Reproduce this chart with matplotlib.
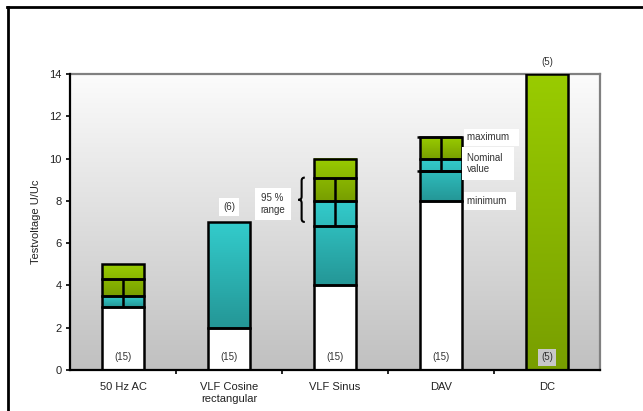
import numpy as np
import matplotlib
matplotlib.use("Agg")
import matplotlib.pyplot as plt
from matplotlib.colors import LinearSegmentedColormap
from matplotlib.lines import Line2D
from matplotlib.path import Path
from matplotlib.patches import PathPatch

plt.rcParams['font.family'] = ['Liberation Sans', 'DejaVu Sans']

# ---- data -------------------------------------------------------------
categories = ["50 Hz AC", "VLF Cosine\nrectangular", "VLF Sinus", "DAV", "DC"]
# segment boundaries of each stacked column (U/Uc)
boundaries = [
    [0, 3, 3.5, 4.3, 5],
    [0, 2, 7],
    [0, 4, 6.8, 8, 9.1, 10],
    [0, 8, 9.4, 10, 11],
    [0, 14],
]
# fill kind of each segment
kinds = [
    ["white", "cyan", "green", "green"],
    ["white", "cyan"],
    ["white", "cyan", "cyan", "green", "green"],
    ["white", "cyan", "cyan", "green"],
    ["green"],
]
# vertical divider (95 % range) of each column, None if absent
dividers = [(3, 4.3), None, (6.8, 9.1), (9.4, 11), None]
sample_counts = ["(15)", "(15)", "(15)", "(15)", "(5)"]
top_counts = [None, "(6)", None, None, "(5)"]
yticks = [0, 2, 4, 6, 8, 10, 12, 14]

# ---- style ------------------------------------------------------------
gradients = {
    "cyan": ("#33cccc", "#249696"),
    "green": ("#99cc00", "#789e00"),
}
bar_w = 0.4
edge_lw = 1.8

fig = plt.figure(figsize=(6.43, 4.11), dpi=100)
ax = fig.add_axes([0.109, 0.0998, 0.824, 0.7202])
ax.set_xlim(-0.5, len(categories) - 0.5)
ax.set_ylim(0, 14)

# background gradient of the plot area
bg = LinearSegmentedColormap.from_list("bg", ["#c0c0c0", "#fcfcfc"])
ax.imshow(np.linspace(0, 1, 256).reshape(-1, 1), cmap=bg, aspect="auto",
          extent=(0, 1, 0, 1), transform=ax.transAxes, origin="lower",
          zorder=0)

grad = np.linspace(0, 1, 256).reshape(-1, 1)
for i, (bnds, knd) in enumerate(zip(boundaries, kinds)):
    left, right = i - bar_w / 2, i + bar_w / 2
    # contiguous groups of equal kind share one gradient
    j = 0
    while j < len(knd):
        k = j
        while k + 1 < len(knd) and knd[k + 1] == knd[j]:
            k += 1
        lo, hi = bnds[j], bnds[k + 1]
        if knd[j] == "white":
            ax.bar(i, hi - lo, bottom=lo, width=bar_w, color="white",
                   linewidth=0, zorder=2)
        else:
            top_c, bot_c = gradients[knd[j]]
            cm = LinearSegmentedColormap.from_list(knd[j], [bot_c, top_c])
            ax.imshow(grad, cmap=cm, aspect="auto", origin="lower",
                      extent=(left, right, lo, hi), zorder=2)
        j = k + 1
    # outlines of every segment
    for lo, hi in zip(bnds[:-1], bnds[1:]):
        ax.bar(i, hi - lo, bottom=lo, width=bar_w, fill=False,
               edgecolor="black", linewidth=edge_lw, zorder=3)
    if dividers[i] is not None:
        ax.plot([i, i], dividers[i], color="black", lw=edge_lw, zorder=4,
                solid_capstyle="butt")

# nominal / maximum lines of DAV reach slightly past the column
for y in (9.4, 11):
    ax.plot([3 - bar_w / 2 - 0.025, 3 + bar_w / 2], [y, y], color="black",
            lw=edge_lw, zorder=4, solid_capstyle="butt")
ax.set_xlim(-0.5, len(categories) - 0.5)
ax.set_ylim(0, 14)

# sample counts
for i, s in enumerate(sample_counts):
    fc = "white" if kinds[i][0] == "white" else "#c8c8c8"
    ax.text(i, 0.6, s, ha="center", va="center", fontsize=7,
            color="#333333", zorder=5,
            bbox=dict(boxstyle="square,pad=0.35", fc=fc, ec="none"))
ax.text(1, 7.7, top_counts[1], ha="center", va="center", fontsize=7,
        color="#333333", zorder=5,
        bbox=dict(boxstyle="square,pad=0.4", fc="white", ec="none"))
ax.text(4, 14.55, top_counts[4], ha="center", va="center", fontsize=7,
        color="#333333", clip_on=False)

# DAV annotations
lab_kw = dict(ha="left", va="center", fontsize=7, color="#333333", zorder=5)
ax.text(3.25, 11.0, "maximum  ", bbox=dict(boxstyle="square,pad=0.4",
        fc="white", ec="none"), **lab_kw)
ax.text(3.25, 9.78, "Nominal  \nvalue", linespacing=1.15,
        bbox=dict(boxstyle="square,pad=0.6", fc="white", ec="none"), **lab_kw)
ax.text(3.25, 8.0, "minimum  ", bbox=dict(boxstyle="square,pad=0.4",
        fc="white", ec="none"), **lab_kw)

# 95 % range label and brace
ax.text(1.30, 7.85, "95 %\nrange", ha="left", va="center", fontsize=7,
        color="#333333", linespacing=1.15, zorder=5,
        bbox=dict(boxstyle="square,pad=0.55", fc="white", ec="none"))
bx, y0, y1 = 1.685, 7.0, 9.1
ym = (y0 + y1) / 2
verts = [(bx + 0.03, y1), (bx, y1), (bx, y1 - 0.15),
         (bx, ym + 0.15),
         (bx, ym), (bx - 0.03, ym),
         (bx, ym), (bx, ym - 0.15),
         (bx, y0 + 0.15),
         (bx, y0), (bx + 0.03, y0)]
codes = [Path.MOVETO, Path.CURVE3, Path.CURVE3,
         Path.LINETO,
         Path.CURVE3, Path.CURVE3,
         Path.CURVE3, Path.CURVE3,
         Path.LINETO,
         Path.CURVE3, Path.CURVE3]
ax.add_patch(PathPatch(Path(verts, codes), fill=False, lw=1.5,
                       edgecolor="black", zorder=5, clip_on=False))

# axes styling
ax.set_yticks(yticks)
ax.set_xticks(range(len(categories)))
ax.set_xticklabels(categories, fontsize=8, color="#222222")
ax.set_xticks(np.arange(0.5, len(categories) - 0.5), minor=True)
ax.tick_params(axis="x", which="major", length=0, pad=9)
ax.tick_params(axis="x", which="minor", length=3, width=1.2, direction="out")
ax.tick_params(axis="y", length=3, width=1.2, direction="out",
               labelsize=8, labelcolor="#222222", pad=3)
ax.set_ylabel("Testvoltage U/Uc", fontsize=8, color="#222222", labelpad=6)
for s in ("left", "bottom"):
    ax.spines[s].set_color("black")
    ax.spines[s].set_linewidth(1.6)
    ax.spines[s].set_zorder(6)
for s in ("top", "right"):
    ax.spines[s].set_color("#808080")
    ax.spines[s].set_linewidth(1.6)

# outer frame
fig.add_artist(Line2D([7 / 643, 1.0], [1 - 7.5 / 411] * 2, color="black",
                      lw=2, transform=fig.transFigure))
fig.add_artist(Line2D([7.5 / 643] * 2, [0, 1 - 7.5 / 411], color="black",
                      lw=2, transform=fig.transFigure))

fig.savefig("out.png", dpi=100)
